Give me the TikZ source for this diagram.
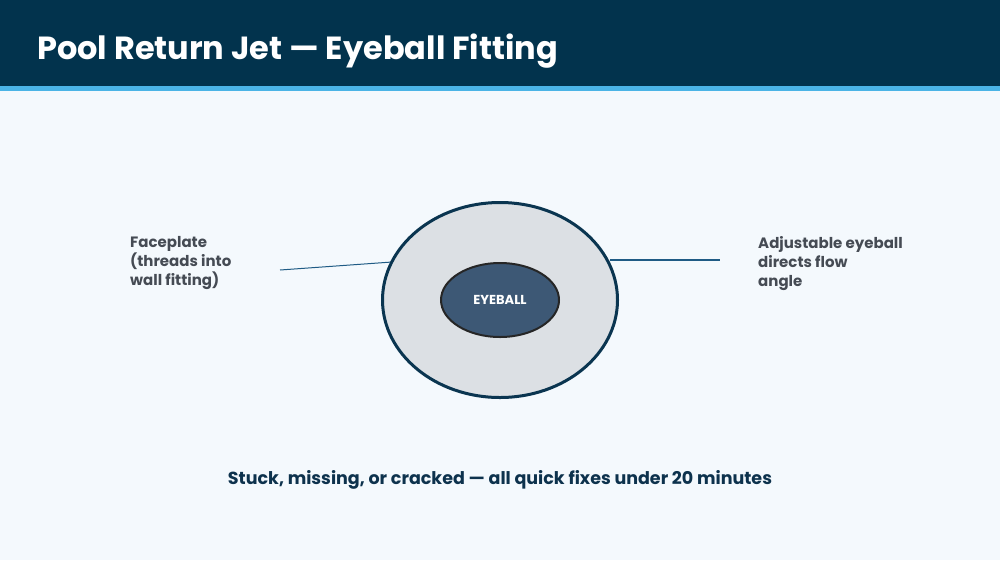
\documentclass[tikz,border=0pt]{standalone}
\usepackage{fontspec}
\setmainfont{Poppins}
\usepackage{tikz}
\usetikzlibrary{shapes.geometric, positioning}

\definecolor{headbg}{HTML}{02334D}
\definecolor{stripe}{HTML}{4BB4E6}
\definecolor{pagebg}{HTML}{F4F9FD}
\definecolor{plategray}{HTML}{DCE0E4}
\definecolor{platerim}{HTML}{0A3550}
\definecolor{ballblue}{HTML}{3D5875}
\definecolor{labelgray}{HTML}{454B54}
\definecolor{notenavy}{HTML}{0D324D}
\definecolor{leader}{HTML}{1F5B85}

\begin{document}
\begin{tikzpicture}[
        x=1pt, y=-1pt,
        title/.style={anchor=base west, inner sep=0pt, text=white,
                      font=\fontsize{32}{36}\selectfont\bfseries},
        callout/.style={anchor=north west, inner sep=0pt, align=left, text=labelgray,
                        font=\fontsize{15}{19}\selectfont\bfseries},
        plate/.style={ellipse, draw=platerim, line width=3pt, fill=plategray,
                      minimum width=235pt, minimum height=195pt},
        ball/.style={ellipse, draw=black!85, line width=2pt, fill=ballblue, text=white,
                     minimum width=118pt, minimum height=74pt,
                     font=\fontsize{13}{15}\selectfont\bfseries},
        leaderline/.style={draw=leader, line width=1pt},
        note/.style={inner sep=0pt, text=notenavy, font=\fontsize{17.5}{20}\selectfont\bfseries},
    ]
        \useasboundingbox (0,0) rectangle (1000,560);
        \fill[pagebg] (0,0) rectangle (1000,560);
        \fill[headbg] (0,0) rectangle (1000,86);
        \fill[stripe] (0,86) rectangle (1000,91);
        \node[title] (heading) at (37,59) {Pool Return Jet — Eyeball Fitting};

        \node[plate] (faceplate) at (500,300) {};
        \node[ball] (eyeball) at (500,300) {EYEBALL};

        \node[callout] (faceLbl) at (130,236) {Faceplate\\(threads into\\wall fitting)};
        \node[callout] (eyeLbl) at (758,236) {Adjustable eyeball\\directs flow\\angle};

        \coordinate (faceTip) at (280,270);
        \coordinate (eyeTip) at (720,260);
        \draw[leaderline] (faceTip) -- (faceplate.161);
        \draw[leaderline, line width=1.5pt] (faceplate.19 |- eyeTip) -- (eyeTip);

        \node[note] (summary) at (500,480) {Stuck, missing, or cracked — all quick fixes under 20 minutes};
    \end{tikzpicture}
\end{document}
